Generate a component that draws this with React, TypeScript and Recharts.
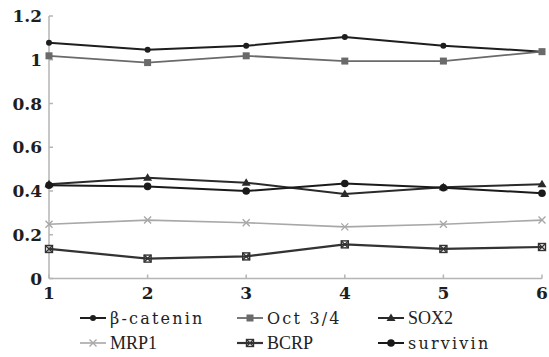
import { LineChart, Line, XAxis, YAxis } from "recharts";

// Sample index on the x axis
const samples = [1, 2, 3, 4, 5, 6];

// Relative expression per marker
const betaCatenin = [1.078, 1.046, 1.064, 1.104, 1.064, 1.037];
const oct34 = [1.018, 0.987, 1.018, 0.994, 0.994, 1.037];
const sox2 = [0.431, 0.461, 0.438, 0.386, 0.417, 0.431];
const mrp1 = [0.248, 0.267, 0.255, 0.236, 0.248, 0.267];
const bcrp = [0.135, 0.091, 0.101, 0.156, 0.135, 0.144];
const survivin = [0.426, 0.421, 0.4, 0.434, 0.415, 0.39];

const yTicks = [0, 0.2, 0.4, 0.6, 0.8, 1, 1.2];

const data = samples.map((s, i) => ({
    x: s,
    beta: betaCatenin[i],
    oct: oct34[i],
    sox2: sox2[i],
    mrp1: mrp1[i],
    bcrp: bcrp[i],
    survivin: survivin[i],
}));

const WIDE = "'DejaVu Serif', serif";
const SERIF = "'Liberation Serif', serif";
const AXIS = "#b5b5b5";

type Shape = "dot" | "square" | "triangle" | "cross" | "star" | "bigdot";

// Draws one marker centred on (cx, cy)
function Marker({ shape, cx, cy, color }: { shape: Shape; cx: number; cy: number; color: string }) {
    switch (shape) {
        case "dot":
            return <circle cx={cx} cy={cy} r={3} fill={color} />;
        case "bigdot":
            return <circle cx={cx} cy={cy} r={3.8} fill={color} />;
        case "square":
            return <rect x={cx - 3.5} y={cy - 3.5} width={7} height={7} fill={color} />;
        case "triangle":
            return <path d={`M${cx},${cy - 4.5} L${cx + 4.5},${cy + 3} L${cx - 4.5},${cy + 3} Z`} fill={color} />;
        case "cross":
            return (
                <path
                    d={`M${cx - 3.5},${cy - 3.5} L${cx + 3.5},${cy + 3.5} M${cx + 3.5},${cy - 3.5} L${cx - 3.5},${cy + 3.5}`}
                    stroke={color}
                    strokeWidth={1.4}
                />
            );
        case "star":
            return (
                <g>
                    <rect x={cx - 3.5} y={cy - 3.5} width={7} height={7} fill="none" stroke={color} strokeWidth={1.4} />
                    <path
                        d={`M${cx - 3.5},${cy - 3.5} L${cx + 3.5},${cy + 3.5} M${cx + 3.5},${cy - 3.5} L${cx - 3.5},${cy + 3.5}`}
                        stroke={color}
                        strokeWidth={1.4}
                    />
                </g>
            );
    }
}

const series: { key: string; name: string; color: string; width: number; shape: Shape; font: string }[] = [
    { key: "beta", name: "β-catenin", color: "#1e1e1e", width: 2, shape: "dot", font: WIDE },
    { key: "oct", name: "Oct 3/4", color: "#6a6a6a", width: 1.8, shape: "square", font: WIDE },
    { key: "sox2", name: "SOX2", color: "#2a2a2a", width: 2, shape: "triangle", font: SERIF },
    { key: "mrp1", name: "MRP1", color: "#a8a8a8", width: 1.6, shape: "cross", font: SERIF },
    { key: "bcrp", name: "BCRP", color: "#333333", width: 2.2, shape: "star", font: SERIF },
    { key: "survivin", name: "survivin", color: "#1a1a1a", width: 2, shape: "bigdot", font: WIDE },
];

// Legend columns (left edge of the line symbol)
const legendCols = [80, 237, 378];
const legendRows = [318, 343];

function LegendItem({ s, left, top }: { s: (typeof series)[number]; left: number; top: number }) {
    const wide = s.font === WIDE;
    return (
        <div style={{ position: "absolute", left, top: top - 11, height: 22, display: "flex", alignItems: "center" }}>
            <svg width={26} height={22}>
                <line x1={0} y1={11} x2={26} y2={11} stroke={s.color} strokeWidth={s.width} />
                <Marker shape={s.shape} cx={13} cy={11} color={s.color} />
            </svg>
            <span
                style={{
                    marginLeft: 4,
                    fontFamily: s.font,
                    fontSize: wide ? 16 : 18,
                    letterSpacing: wide ? 2.2 : 0,
                    color: "#222",
                    whiteSpace: "pre",
                }}
            >
                {s.name}
            </span>
        </div>
    );
}

const tickStyle = { fill: "#1e1e1e", fontFamily: WIDE, fontSize: 17, fontWeight: "bold" };

export default function App() {
    return (
        <div style={{ position: "absolute", left: 0, top: 0, width: 549, height: 357, background: "#fff" }}>
            <LineChart width={549} height={357} data={data} margin={{ top: 16, right: 7, bottom: 48.5, left: 0 }}>
                <XAxis
                    dataKey="x"
                    type="number"
                    domain={[1, 6]}
                    ticks={samples}
                    height={30}
                    stroke={AXIS}
                    strokeWidth={1.5}
                    tickSize={-4}
                    tickMargin={12}
                    tick={tickStyle}
                />
                <YAxis
                    type="number"
                    domain={[0, 1.2]}
                    ticks={yTicks}
                    width={49}
                    stroke={AXIS}
                    strokeWidth={1.5}
                    tickSize={-4}
                    tickMargin={11}
                    tick={tickStyle}
                    tickFormatter={(v: number) => String(Math.round(v * 10) / 10)}
                />
                {series.map((s) => (
                    <Line
                        key={s.key}
                        dataKey={s.key}
                        name={s.name}
                        type="linear"
                        stroke={s.color}
                        strokeWidth={s.width}
                        isAnimationActive={false}
                        dot={(p: any) => <Marker key={`${s.key}-${p.index}`} shape={s.shape} cx={p.cx} cy={p.cy} color={s.color} />}
                        activeDot={false}
                    />
                ))}
            </LineChart>
            {series.map((s, i) => (
                <LegendItem key={s.key} s={s} left={legendCols[i % 3]} top={legendRows[Math.floor(i / 3)]} />
            ))}
        </div>
    );
}
